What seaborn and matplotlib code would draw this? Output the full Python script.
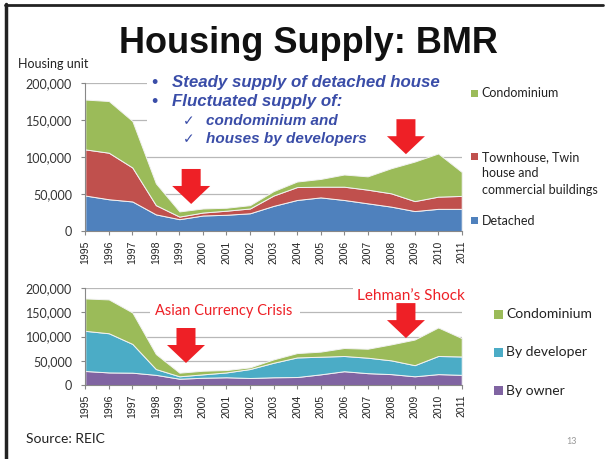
import matplotlib
matplotlib.use("Agg")
import matplotlib.pyplot as plt
import seaborn as sns
from matplotlib.patches import Polygon, Rectangle
from matplotlib.lines import Line2D
from matplotlib.ticker import StrMethodFormatter
from matplotlib.transforms import IdentityTransform

# ---- data (housing units, Bangkok Metropolitan Region) ----
years = list(range(1995, 2012))

# upper chart: by type of building
detached = [48000, 43000, 40000, 22500, 16000, 21000, 22000, 24000, 34000,
            42000, 45500, 42000, 37500, 33000, 27000, 30000, 30000]
townhouse = [62500, 63000, 46000, 12500, 3500, 4000, 5500, 6500, 14000,
             17500, 14500, 18000, 18500, 18000, 13500, 16500, 17500]
condo_type = [67500, 70000, 63000, 29500, 7000, 5500, 4000, 4500, 6000,
              7500, 10500, 16500, 18000, 34000, 53500, 58500, 32500]

# lower chart: by builder
by_owner = [29000, 26000, 25500, 21000, 13000, 15000, 16000, 14500, 16000,
            16500, 22000, 28500, 24500, 22500, 18000, 22500, 21000]
by_developer = [83000, 81000, 59500, 12000, 5000, 7000, 10000, 18500, 30000,
                40500, 36500, 31500, 32000, 28500, 23000, 37500, 38000]
condo_builder = [67000, 70000, 65000, 31000, 7500, 7500, 5000, 3500, 7000,
                 9000, 10500, 16500, 18500, 33000, 53000, 59000, 38000]

top_labels = ["Detached", "Townhouse, Twin\nhouse and\ncommercial buildings", "Condominium"]
bottom_labels = ["By owner", "By developer", "Condominium"]
top_colors = ["#4F81BD", "#C0504D", "#9BBB59"]
bottom_colors = ["#8064A2", "#4BACC6", "#9BBB59"]
yticks = [0, 50000, 100000, 150000, 200000]

RED = "#EE2026"
BLUE_TXT = "#3A4DA8"
W, H = 610, 459

sns.set_theme(style="whitegrid")
plt.rcParams["font.family"] = ["Lato", "DejaVu Sans"]

fig = plt.figure(figsize=(W / 100, H / 100), dpi=100)
fig.patch.set_facecolor("white")


def px(x, y):
    return x / W, 1 - y / H


def make_axes(left, top, right, bottom):
    ax = fig.add_axes([left / W, 1 - bottom / H, (right - left) / W, (bottom - top) / H])
    ax.set_facecolor("white")
    ax.set_xlim(1995, 2011)
    ax.set_ylim(0, 200000)
    ax.set_xticks(years)
    ax.set_xticklabels([str(y) for y in years], rotation=90,
                       family="Liberation Sans", fontsize=7.5, color="#222222")
    ax.set_yticks(yticks)
    ax.yaxis.set_major_formatter(StrMethodFormatter("{x:,.0f}"))
    ax.tick_params(axis="y", labelsize=9, colors="#888888", labelcolor="#333333",
                   length=3, width=0.8, left=True, pad=6.5)
    ax.tick_params(axis="x", length=3, width=0.8, bottom=True, pad=4, colors="#888888",
                   labelcolor="#222222")
    ax.grid(axis="y", color="#B8B8B8", linewidth=0.9)
    ax.grid(axis="x", visible=False)
    for s in ["top", "right"]:
        ax.spines[s].set_visible(False)
    for s in ["left", "bottom"]:
        ax.spines[s].set_color("#888888")
        ax.spines[s].set_linewidth(0.8)
    return ax


def mask(ax, x0, y0, x1, y1):
    # white box of a slide text that hides the gridlines behind it
    r = Rectangle(px(x0, y1), (x1 - x0) / W, (y1 - y0) / H, transform=fig.transFigure,
                  facecolor="white", edgecolor="none", zorder=0.8)
    ax.add_patch(r)


def block_arrow(ax, x, y, shaft_w=19, head_w=38, shaft_len=17, head_len=18):
    tx, ty = ax.transData.transform((x, y))
    pts = [(tx, ty), (tx - head_w / 2, ty + head_len), (tx - shaft_w / 2, ty + head_len),
           (tx - shaft_w / 2, ty + head_len + shaft_len), (tx + shaft_w / 2, ty + head_len + shaft_len),
           (tx + shaft_w / 2, ty + head_len), (tx + head_w / 2, ty + head_len)]
    fig.add_artist(Polygon(pts, closed=True, transform=IdentityTransform(),
                           facecolor=RED, edgecolor="none", zorder=5))


def legend_entry(x, y, size, color, label, fontsize, line_gap=None):
    fig.add_artist(Rectangle(px(x, y + size / 2), size / W, size / H,
                             transform=fig.transFigure, facecolor=color, edgecolor="none"))
    lines = label.split("\n")
    for i, line in enumerate(lines):
        fig.text(*px(x + size + 4, y + i * (line_gap or 0)), line, fontsize=fontsize,
                 color="#222222", va="center", ha="left")


# ---- upper chart ----
ax1 = make_axes(85.3, 83.3, 461.7, 231)
ax1.stackplot(years, detached, townhouse, condo_type, colors=top_colors,
              edgecolor="#F2F2F2", linewidth=0.7, zorder=1)
mask(ax1, 147, 66, 470, 146)
block_arrow(ax1, 1999.5, 36600)
block_arrow(ax1, 2008.63, 104000)

# ---- lower chart ----
ax2 = make_axes(85.3, 288.3, 461.7, 385)
ax2.stackplot(years, by_owner, by_developer, condo_builder, colors=bottom_colors,
              edgecolor="#F2F2F2", linewidth=0.7, zorder=1)
mask(ax2, 150, 302, 300, 319)
mask(ax2, 353, 283, 470, 305)
block_arrow(ax2, 1999.28, 45500)
block_arrow(ax2, 2008.63, 97000)

# ---- legends ----
legend_entry(470.5, 93.3, 7, top_colors[2], top_labels[2], 9)
legend_entry(470.5, 156.7, 7, top_colors[1], top_labels[1], 9, line_gap=16.5)
legend_entry(470.5, 220.7, 7, top_colors[0], top_labels[0], 9)
legend_entry(493.5, 314, 9, bottom_colors[2], bottom_labels[2], 10)
legend_entry(493.5, 352.3, 9, bottom_colors[1], bottom_labels[1], 10)
legend_entry(493.5, 390.7, 9, bottom_colors[0], bottom_labels[0], 10)

# ---- slide texts ----
fig.text(*px(308.5, 53), "Housing Supply: BMR", family="Liberation Sans", weight="bold",
         fontsize=26, color="#111111", ha="center", va="baseline")
fig.text(*px(18, 68), "Housing unit", fontsize=9, color="#222222", ha="left", va="baseline")

bullet_kw = dict(family=["Liberation Sans", "DejaVu Sans"], weight="bold", style="italic",
                 color=BLUE_TXT, va="baseline", ha="left")
fig.text(*px(151, 86.7), "\u2022", fontsize=12.2, **bullet_kw)
fig.text(*px(172, 86.7), "Steady supply of detached house", fontsize=12.2, **bullet_kw)
fig.text(*px(151, 106), "\u2022", fontsize=12.2, **bullet_kw)
fig.text(*px(172, 106), "Fluctuated supply of:", fontsize=12.2, **bullet_kw)
check_kw = dict(family="DejaVu Sans", color=BLUE_TXT, va="baseline", ha="left", fontsize=10)
fig.text(*px(183, 125), "\u2713", **check_kw)
fig.text(*px(206, 125), "condominium and", fontsize=11, **bullet_kw)
fig.text(*px(183, 142.7), "\u2713", **check_kw)
fig.text(*px(206, 142.7), "houses by developers", fontsize=11, **bullet_kw)

fig.text(*px(224, 315), "Asian Currency Crisis", fontsize=10.5, color=RED,
         ha="center", va="baseline")
fig.text(*px(410.5, 300), "Lehman\u2019s Shock", fontsize=11, color=RED,
         ha="center", va="baseline")

fig.text(*px(26, 442.7), "Source: REIC", fontsize=10, color="#222222", ha="left", va="baseline")
fig.text(*px(571.5, 444), "13", fontsize=6.5, color="#999999", ha="center", va="baseline")

# slide frame (top and left edges)
fig.add_artist(Line2D([5 / W, 603 / W], [1 - 5 / H, 1 - 5 / H], transform=fig.transFigure,
                      color="#222222", linewidth=2))
fig.add_artist(Line2D([5.5 / W, 5.5 / W], [1 - 4 / H, 0], transform=fig.transFigure,
                      color="#222222", linewidth=2.5))

fig.savefig("out.png", dpi=100)
